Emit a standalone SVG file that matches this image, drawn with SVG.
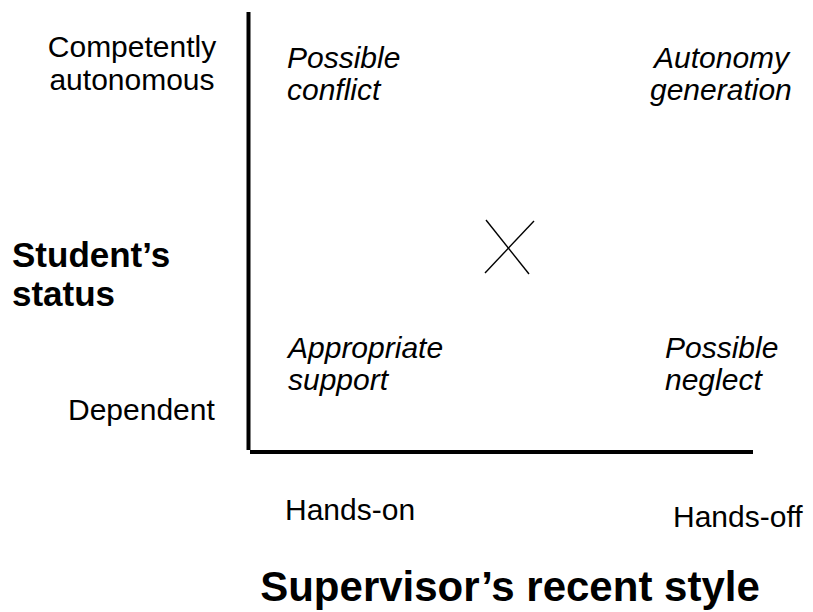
<svg xmlns="http://www.w3.org/2000/svg" width="813" height="612" viewBox="0 0 813 612">
<style>
.t{font-family:"Liberation Sans",Arial,sans-serif;font-size:30px;fill:#000}
.i{font-style:italic}
.b{font-weight:bold;font-size:35px}
.ax{stroke:#000;stroke-width:4;fill:none}
.x{stroke:#000;stroke-width:1.4;fill:none}
</style>
<rect width="813" height="612" fill="#fff"/>
<g id="axes">
<line class="ax" x1="248.5" y1="12" x2="248.5" y2="450"/>
<line class="ax" x1="250" y1="452" x2="753" y2="452"/>
</g>
<g id="center-mark">
<line class="x" x1="486" y1="220" x2="529" y2="274"/>
<line class="x" x1="534" y1="221" x2="485" y2="273"/>
</g>
<g id="y-high"><text class="t" x="132" y="57" text-anchor="middle">Competently</text><text class="t" x="132" y="90" text-anchor="middle">autonomous</text></g>
<g id="y-low"><text class="t" x="68" y="420">Dependent</text></g>
<g id="y-title"><text class="t b" x="12" y="267">Student’s</text><text class="t b" x="12" y="306">status</text></g>
<g id="q-tl"><text class="t i" x="287" y="68">Possible</text><text class="t i" x="287" y="100">conflict</text></g>
<g id="q-tr"><text class="t i" x="654" y="68">Autonomy</text><text class="t i" x="650" y="100">generation</text></g>
<g id="q-bl"><text class="t i" x="288" y="358">Appropriate</text><text class="t i" x="288" y="390">support</text></g>
<g id="q-br"><text class="t i" x="665" y="358">Possible</text><text class="t i" x="665" y="390">neglect</text></g>
<g id="x-low"><text class="t" x="285" y="520">Hands-on</text></g>
<g id="x-high"><text class="t" x="673" y="527">Hands-off</text></g>
<g id="x-title"><text class="t b" x="510" y="601" text-anchor="middle" style="font-size:42px">Supervisor’s recent style</text></g>
</svg>
